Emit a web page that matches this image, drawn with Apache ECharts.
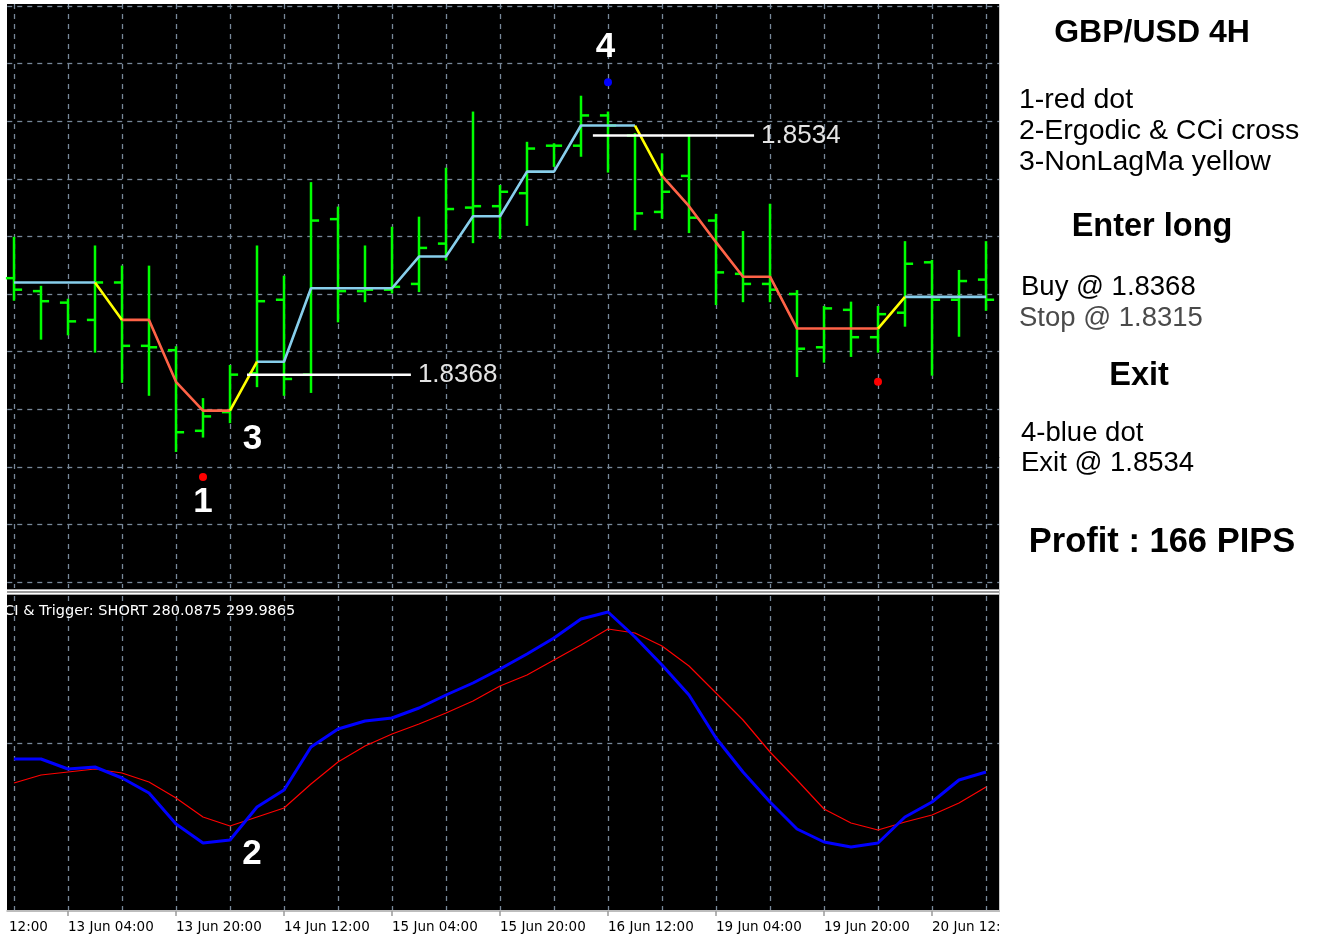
<!DOCTYPE html>
<html><head><meta charset="utf-8">
<script src="https://cdn.jsdelivr.net/npm/echarts@6.0.0/dist/echarts.min.js"></script>
<style>html,body{margin:0;padding:0;background:#fff;}#c{width:1317px;height:936px;}</style>
</head><body><div id="c"></div>
<script>
// ---- data ----
const times = ['12 Jun 20:00','13 Jun 00:00','13 Jun 04:00','13 Jun 08:00','13 Jun 12:00','13 Jun 16:00','13 Jun 20:00',
  '14 Jun 00:00','14 Jun 04:00','14 Jun 08:00','14 Jun 12:00','14 Jun 16:00','14 Jun 20:00',
  '15 Jun 00:00','15 Jun 04:00','15 Jun 08:00','15 Jun 12:00','15 Jun 16:00','15 Jun 20:00',
  '16 Jun 00:00','16 Jun 04:00','16 Jun 08:00','16 Jun 12:00','16 Jun 16:00','16 Jun 20:00',
  '19 Jun 00:00','19 Jun 04:00','19 Jun 08:00','19 Jun 12:00','19 Jun 16:00','19 Jun 20:00',
  '20 Jun 00:00','20 Jun 04:00','20 Jun 08:00','20 Jun 12:00','20 Jun 16:00','20 Jun 20:00'];
const open  = [1.8435,1.8426,1.8418,1.8406,1.8432,1.8388,1.8385,1.8329,1.8342,1.8369,1.8420,1.8368,1.8476,1.8426,1.8427,1.8431,1.8459,1.8484,1.8485,1.8494,1.8527,1.8527,1.8548,1.8534,1.8481,1.8506,1.8475,1.8438,1.8431,1.8424,1.8387,1.8413,1.8394,1.8411,1.8446,1.8420,1.8434];
const high  = [1.8463,1.8429,1.8420,1.8457,1.8443,1.8443,1.8387,1.8351,1.8374,1.8457,1.8436,1.8501,1.8484,1.8457,1.8470,1.8477,1.8511,1.8550,1.8499,1.8529,1.8528,1.8561,1.8550,1.8535,1.8521,1.8534,1.8479,1.8467,1.8486,1.8426,1.8415,1.8418,1.8415,1.8460,1.8447,1.8440,1.8460];
const low   = [1.8420,1.8393,1.8396,1.8384,1.8363,1.8354,1.8315,1.8325,1.8335,1.8360,1.8354,1.8356,1.8405,1.8419,1.8425,1.8426,1.8448,1.8460,1.8463,1.8472,1.8513,1.8520,1.8509,1.8469,1.8477,1.8467,1.8417,1.8419,1.8419,1.8367,1.8377,1.8381,1.8384,1.8402,1.8368,1.8395,1.8413];
const close = [1.8427,1.8419,1.8405,1.8432,1.8388,1.8387,1.8328,1.8339,1.8368,1.8419,1.8365,1.8475,1.8426,1.8427,1.8429,1.8456,1.8483,1.8485,1.8495,1.8525,1.8527,1.8548,1.8541,1.8480,1.8495,1.8477,1.8439,1.8431,1.8427,1.8386,1.8414,1.8394,1.8410,1.8445,1.8420,1.8433,1.8420];
const nlma  = [1.8432,1.8432,1.8432,1.8432,1.8406,1.8406,1.8363,1.8343,1.8343,1.8377,1.8377,1.8428,1.8428,1.8428,1.8428,1.8450,1.8450,1.8478,1.8478,1.8509,1.8509,1.8541,1.8541,1.8541,1.8506,1.8485,1.8460,1.8436,1.8436,1.8400,1.8400,1.8400,1.8400,1.8422,1.8422,1.8422,1.8422];
const nlmaTrend = ['up','up','up','up','chg','dn','dn','dn','dn','chg','up','up','up','up','up','up','up','up','up','up','up','up','up','up','chg','dn','dn','dn','dn','dn','dn','dn','dn','chg','up','up','up'];
const cciMain    = [-32,-32,-52,-48,-70,-100,-162,-200,-194,-128,-94,-8,28,44,50,70,96,120,148,178,210,248,262,212,156,96,10,-58,-118,-172,-198,-208,-200,-148,-118,-74,-58];
const cciTrigger = [-80,-64,-58,-52,-60,-78,-110,-148,-166,-148,-130,-82,-38,-6,18,38,60,84,114,136,166,196,228,220,194,154,100,46,-18,-74,-132,-160,-174,-158,-144,-120,-88];
const levelValues = [1.8368, 1.8534];
const levelFrom   = [8.63, 21.44];
const levelTo     = [14.70, 27.41];
const redDots  = [[7, 1.8297], [32, 1.8363]];
const blueDots = [[22, 1.8571]];
const priceNotes = [[7, 1.8279, '1'], [8.83, 1.8323, '3'], [21.91, 1.8595, '4']];
const cciNotes   = [[8.81, -222, '2']];
const priceMin = 1.8224, priceMax = 1.8624, priceStep = 0.004;
const cciMin = -336, cciMax = 294, cciStep = 336;
const ccTitle = 'CCI & Trigger: SHORT 280.0875 299.9865';

// ---- chart ----
const FONT = '"Liberation Sans", Arial, sans-serif';
const AXF = '"DejaVu Sans", sans-serif';
const gridDash = {color: '#778899', width: 1.3, type: [5, 5]};
const n = times.length;
const ohlc = open.map((o, i) => [i, o, high[i], low[i], close[i]]);
const trendColors = {up: '#87ceeb', chg: '#ffff00', dn: '#ff6347'};

function trendSeries(state) {
  const data = nlma.map((v, i) => {
    const on = nlmaTrend[i] === state || (i + 1 < n && nlmaTrend[i + 1] === state);
    return [i, on ? v : null];
  });
  return {type: 'line', xAxisIndex: 0, yAxisIndex: 0, data, symbol: 'none', showSymbol: false,
    connectNulls: false, lineStyle: {color: trendColors[state], width: 2.6}, z: 4};
}
const labelEvery4 = (idx) => idx % 4 === 2;
const everyOther = (idx) => idx % 2 === 0;

function noteSeries(xi, yi, notes) {
  return {type: 'scatter', xAxisIndex: xi, yAxisIndex: yi, symbolSize: 1,
    itemStyle: {color: 'rgba(0,0,0,0)', opacity: 1}, z: 8,
    data: notes.map(a => ({name: a[2], value: [a[0], a[1]]})),
    label: {show: true, position: 'inside', formatter: '{b}', color: '#ffffff', opacity: 1, fontSize: 35,
      fontWeight: 'bold', fontFamily: FONT}};
}

const side = [
  {t: 'GBP/USD 4H', x: 1152, y: 33, a: 'center', f: 'bold 32px ' + FONT, c: '#000'},
  {t: '1-red dot', x: 1019, y: 100, a: 'left', f: '28.5px ' + FONT, c: '#000'},
  {t: '2-Ergodic & CCi cross', x: 1019, y: 131, a: 'left', f: '28.5px ' + FONT, c: '#000'},
  {t: '3-NonLagMa yellow', x: 1019, y: 162, a: 'left', f: '28.5px ' + FONT, c: '#000'},
  {t: 'Enter long', x: 1152, y: 227, a: 'center', f: 'bold 32.5px ' + FONT, c: '#000'},
  {t: 'Buy @ 1.8368', x: 1021, y: 287, a: 'left', f: '27.5px ' + FONT, c: '#000'},
  {t: 'Stop @ 1.8315', x: 1019, y: 318, a: 'left', f: '27.5px ' + FONT, c: '#4a4a4a'},
  {t: 'Exit', x: 1139, y: 376, a: 'center', f: 'bold 32.5px ' + FONT, c: '#000'},
  {t: '4-blue dot', x: 1021, y: 433, a: 'left', f: '27.5px ' + FONT, c: '#000'},
  {t: 'Exit @ 1.8534', x: 1021, y: 463, a: 'left', f: '27.5px ' + FONT, c: '#000'},
  {t: 'Profit : 166 PIPS', x: 1162, y: 542, a: 'center', f: 'bold 34.5px ' + FONT, c: '#000'}
];

const graphics = [
  {type: 'rect', shape: {x: 7, y: 4, width: 993, height: 907}, style: {fill: '#000'}, z: -10, silent: true},
  {type: 'rect', shape: {x: 7, y: 589.5, width: 993, height: 5}, style: {fill: '#9a9a9a'}, z: 10, silent: true},
  {type: 'line', shape: {x1: 7, y1: 590.25, x2: 1000, y2: 590.25}, style: {stroke: '#fff', lineWidth: 1.5}, z: 11, silent: true},
  {type: 'line', shape: {x1: 7, y1: 593.75, x2: 1000, y2: 593.75}, style: {stroke: '#fff', lineWidth: 1.5}, z: 11, silent: true},
  {type: 'line', shape: {x1: 999.5, y1: 4, x2: 999.5, y2: 911}, style: {stroke: '#c8c8c8', lineWidth: 1}, z: 11, silent: true},
  {type: 'rect', shape: {x: 1000, y: 0, width: 317, height: 936}, style: {fill: '#fff'}, z: 50, silent: true},
  {type: 'text', x: -6, y: 611, z: 20, silent: true,
    style: {text: ccTitle, fill: '#fff', font: '14.5px ' + AXF, align: 'left', verticalAlign: 'middle', textAlign: 'left', textVerticalAlign: 'middle'}},
  {type: 'text', x: 9, y: 927, z: 20, silent: true,
    style: {text: '12:00', fill: '#000', font: '13.5px ' + AXF, align: 'left', verticalAlign: 'middle', textAlign: 'left', textVerticalAlign: 'middle'}}
].concat(side.map(s => ({type: 'text', x: s.x, y: s.y, z: 60, silent: true,
  style: {text: s.t, fill: s.c, font: s.f, align: s.a, verticalAlign: 'middle', textAlign: s.a, textVerticalAlign: 'middle'}})));

const hiddenVal = (min, max) => ({type: 'value', min, max, show: true,
  axisLine: {show: false}, axisTick: {show: false}, axisLabel: {show: false}, splitLine: {show: false}});

const option = {
  backgroundColor: '#fff',
  animation: false,
  textStyle: {fontFamily: FONT},
  grid: [
    {left: 7.25, top: 6, width: 992.25, height: 576, outerBoundsMode: 'none', containLabel: false},
    {left: 14, top: 4, width: 972, height: 584, outerBoundsMode: 'none', containLabel: false},
    {left: 7.25, top: 596, width: 992.25, height: 315, outerBoundsMode: 'none', containLabel: false},
    {left: 14, top: 596, width: 972, height: 315, outerBoundsMode: 'none', containLabel: false}
  ],
  xAxis: [
    Object.assign(hiddenVal(-0.25, 36.5), {gridIndex: 0}),
    {type: 'category', gridIndex: 1, data: times, boundaryGap: false,
      axisLine: {show: false}, axisTick: {show: false}, axisLabel: {show: false},
      splitLine: {show: true, interval: everyOther, lineStyle: gridDash}},
    {type: 'value', gridIndex: 2, min: -0.25, max: 36.5, position: 'bottom',
      axisLine: {show: true, onZero: false, lineStyle: {color: '#bdbdbd', width: 2}},
      axisTick: {show: false}, axisLabel: {show: false}, splitLine: {show: false}},
    {type: 'category', gridIndex: 3, data: times, boundaryGap: false, position: 'bottom',
      axisLine: {show: false, onZero: false},
      axisTick: {show: true, interval: labelEvery4, length: 5, lineStyle: {color: '#9a9a9a', width: 1.5}},
      axisLabel: {show: true, interval: labelEvery4, align: 'left', margin: 9, color: '#000',
        fontFamily: AXF, fontSize: 13.5, hideOverlap: false},
      splitLine: {show: true, interval: everyOther, lineStyle: gridDash}}
  ],
  yAxis: [
    {type: 'value', gridIndex: 0, min: priceMin, max: priceMax, interval: priceStep, scale: true,
      axisLine: {show: false}, axisTick: {show: false}, axisLabel: {show: false},
      splitLine: {show: true, showMinLine: true, showMaxLine: true, lineStyle: gridDash}},
    Object.assign(hiddenVal(0, 1), {gridIndex: 1}),
    {type: 'value', gridIndex: 2, min: cciMin, max: cciMax, interval: cciStep,
      axisLine: {show: false}, axisTick: {show: false}, axisLabel: {show: false},
      splitLine: {show: true, showMinLine: false, showMaxLine: false, lineStyle: gridDash}},
    Object.assign(hiddenVal(0, 1), {gridIndex: 3})
  ],
  graphic: {elements: graphics},
  series: [
    {type: 'custom', xAxisIndex: 0, yAxisIndex: 0, data: ohlc, z: 3,
      encode: {x: 0, y: [1, 2, 3, 4]},
      renderItem: function (params, api) {
        const x = api.value(0);
        const o = api.coord([x, api.value(1)]);
        const h = api.coord([x, api.value(2)]);
        const l = api.coord([x, api.value(3)]);
        const c = api.coord([x, api.value(4)]);
        const w = api.size([1, 0])[0] * 0.3;
        const st = {stroke: '#00ff00', lineWidth: 2.5};
        return {type: 'group', children: [
          {type: 'line', shape: {x1: h[0], y1: h[1] - 1, x2: l[0], y2: l[1] + 1}, style: st},
          {type: 'line', shape: {x1: o[0] - w, y1: o[1], x2: o[0], y2: o[1]}, style: st},
          {type: 'line', shape: {x1: c[0], y1: c[1], x2: c[0] + w, y2: c[1]}, style: st}
        ]};
      }},
    trendSeries('up'), trendSeries('dn'), trendSeries('chg'),
    ...levelValues.map((v, k) => ({type: 'line', xAxisIndex: 0, yAxisIndex: 0, z: 5,
      data: [[levelFrom[k], v], [levelTo[k], v]], symbol: 'none', showSymbol: false,
      lineStyle: {color: '#ffffff', width: 2.5},
      endLabel: {show: true, formatter: v.toFixed(4), color: '#e4e4e4', fontSize: 26, fontFamily: FONT, distance: 7}})),
    {type: 'scatter', xAxisIndex: 0, yAxisIndex: 0, data: redDots, symbolSize: 8, itemStyle: {color: '#ff0000', opacity: 1}, z: 6},
    {type: 'scatter', xAxisIndex: 0, yAxisIndex: 0, data: blueDots, symbolSize: 8, itemStyle: {color: '#0000ff', opacity: 1}, z: 6},
    noteSeries(0, 0, priceNotes),
    {type: 'line', xAxisIndex: 2, yAxisIndex: 2, data: cciTrigger.map((v, i) => [i, v]), symbol: 'none', showSymbol: false,
      lineStyle: {color: '#ff0000', width: 1.2}, z: 4},
    {type: 'line', xAxisIndex: 2, yAxisIndex: 2, data: cciMain.map((v, i) => [i, v]), symbol: 'none', showSymbol: false,
      lineStyle: {color: '#0000ff', width: 3}, z: 5},
    noteSeries(2, 2, cciNotes)
  ]
};
const chart = echarts.init(document.getElementById('c'), null, {renderer: 'canvas'});
chart.setOption(option);
</script></body></html>
